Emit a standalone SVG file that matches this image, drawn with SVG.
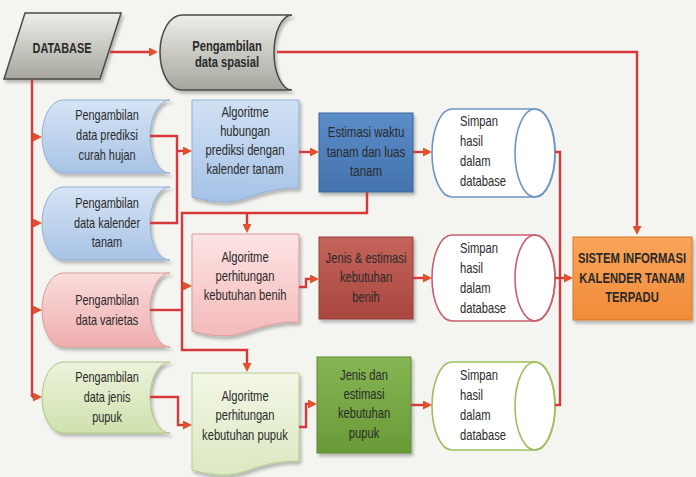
<svg xmlns="http://www.w3.org/2000/svg" width="696" height="477" viewBox="0 0 696 477">
<defs>
<style>
.t{font-family:"Liberation Sans",Arial,sans-serif;font-size:14px;fill:#2a2a2a;text-anchor:middle}
.l{text-anchor:start}
.b{font-weight:bold}
.c{fill:none;stroke:#D7383A;stroke-width:2.4;stroke-linejoin:miter}
.a{marker-end:url(#arr)}
.nb{fill:url(#gBlue);stroke:#93AED4;stroke-width:1}
.np{fill:url(#gPink);stroke:#D89A99;stroke-width:1}
.ng{fill:url(#gGreen);stroke:#AFC784;stroke-width:1}
.cy{fill:#FFFFFF;stroke-width:1.6}
</style>
<linearGradient id="gGray" x1="0" y1="0" x2="0" y2="1"><stop offset="0" stop-color="#EEEEE8"/><stop offset="1" stop-color="#A6A69F"/></linearGradient>
<linearGradient id="gBlue" x1="0" y1="0" x2="0" y2="1"><stop offset="0" stop-color="#D6E4F5"/><stop offset="1" stop-color="#A8C3E6"/></linearGradient>
<linearGradient id="gPink" x1="0" y1="0" x2="0" y2="1"><stop offset="0" stop-color="#FADCDC"/><stop offset="1" stop-color="#EFAEAE"/></linearGradient>
<linearGradient id="gGreen" x1="0" y1="0" x2="0" y2="1"><stop offset="0" stop-color="#ECF3DB"/><stop offset="1" stop-color="#CFE1AE"/></linearGradient>
<linearGradient id="gBlueA" x1="0" y1="0" x2="0" y2="1"><stop offset="0" stop-color="#D1E1F4"/><stop offset="1" stop-color="#A5C2E7"/></linearGradient>
<linearGradient id="gPinkA" x1="0" y1="0" x2="0" y2="1"><stop offset="0" stop-color="#FCE3E3"/><stop offset="1" stop-color="#F3BABA"/></linearGradient>
<linearGradient id="gGreenA" x1="0" y1="0" x2="0" y2="1"><stop offset="0" stop-color="#F2F7E6"/><stop offset="1" stop-color="#DBE8C1"/></linearGradient>
<linearGradient id="gBlueE" x1="0" y1="0" x2="0" y2="1"><stop offset="0" stop-color="#5B8DC8"/><stop offset="1" stop-color="#4473AF"/></linearGradient>
<linearGradient id="gRedE" x1="0" y1="0" x2="0" y2="1"><stop offset="0" stop-color="#C4645B"/><stop offset="1" stop-color="#A9473F"/></linearGradient>
<linearGradient id="gGreenE" x1="0" y1="0" x2="0" y2="1"><stop offset="0" stop-color="#86B553"/><stop offset="1" stop-color="#699A37"/></linearGradient>
<linearGradient id="gOrange" x1="0" y1="0" x2="0" y2="1"><stop offset="0" stop-color="#F9A559"/><stop offset="1" stop-color="#F18B38"/></linearGradient>
<filter id="sh" x="-10%" y="-10%" width="130%" height="130%"><feDropShadow dx="2" dy="3" stdDeviation="1.5" flood-color="#000" flood-opacity="0.25"/></filter>
<marker id="arr" markerUnits="userSpaceOnUse" markerWidth="9" markerHeight="9" viewBox="0 0 9 9" refX="6" refY="4.5" orient="auto"><path d="M0,0 L9,4.5 L0,9 Z" fill="#E2512E"/></marker>
</defs>
<rect width="696" height="477" fill="#F4F4F1"/>

<g id="database">
<polygon points="25,13 121,13 100,79 4,79" fill="url(#gGray)" stroke="#4A4A44" stroke-width="1.5" filter="url(#sh)"/>
<g transform="translate(62 0) scale(0.78 1)"><text class="t b" x="0" y="53">DATABASE</text></g>
</g>

<g id="spasial">
<path d="M182,15 H292 A18,37.5 0 0 0 292,90 H182 A22,37.5 0 0 1 182,15 Z" fill="url(#gGray)" stroke="#4A4A44" stroke-width="1.5" filter="url(#sh)"/>
<g transform="translate(227 0) scale(0.8 1)"><text class="t b" x="0" y="51">Pengambilan</text><text class="t b" x="0" y="67">data spasial</text></g>
</g>

<g id="n-curah">
<path class="nb" d="M63,100 H170 A20,36.5 0 0 0 170,173 H63 A21,36.5 0 0 1 63,100 Z" filter="url(#sh)"/>
<g transform="translate(107 0) scale(0.78 1)"><text class="t" x="0" y="120">Pengambilan</text><text class="t" x="0" y="140">data prediksi</text><text class="t" x="0" y="160">curah hujan</text></g>
</g>

<g id="n-kalender">
<path class="nb" d="M63,187 H170 A20,36.5 0 0 0 170,260 H63 A21,36.5 0 0 1 63,187 Z" filter="url(#sh)"/>
<g transform="translate(107 0) scale(0.78 1)"><text class="t" x="0" y="208">Pengambilan</text><text class="t" x="0" y="228">data kalender</text><text class="t" x="0" y="247">tanam</text></g>
</g>

<g id="n-varietas">
<path class="np" d="M63,273 H170 A20,37 0 0 0 170,347 H63 A21,37 0 0 1 63,273 Z" filter="url(#sh)"/>
<g transform="translate(107 0) scale(0.78 1)"><text class="t" x="0" y="305">Pengambilan</text><text class="t" x="0" y="325">data varietas</text></g>
</g>

<g id="n-pupuk">
<path class="ng" d="M63,362 H170 A20,35.5 0 0 0 170,433 H63 A21,35.5 0 0 1 63,362 Z" filter="url(#sh)"/>
<g transform="translate(107 0) scale(0.78 1)"><text class="t" x="0" y="382">Pengambilan</text><text class="t" x="0" y="402">data jenis</text><text class="t" x="0" y="422">pupuk</text></g>
</g>

<g id="alg-hubungan">
<path d="M192,100 H299 V188 C245.5,188 245.5,212 192,197 Z" fill="url(#gBlueA)" stroke="#93AED4" stroke-width="1" filter="url(#sh)"/>
<g transform="translate(245 0) scale(0.8 1)"><text class="t" x="0" y="117">Algoritme</text><text class="t" x="0" y="136">hubungan</text><text class="t" x="0" y="155">prediksi dengan</text><text class="t" x="0" y="174">kalender tanam</text></g>
</g>

<g id="alg-benih">
<path d="M192,234 H299 V322 C245.5,322 245.5,346 192,331 Z" fill="url(#gPinkA)" stroke="#D89A99" stroke-width="1" filter="url(#sh)"/>
<g transform="translate(245 0) scale(0.8 1)"><text class="t" x="0" y="262">Algoritme</text><text class="t" x="0" y="281">perhitungan</text><text class="t" x="0" y="300">kebutuhan benih</text></g>
</g>

<g id="alg-pupuk">
<path d="M192,373 H299 V461 C245.5,461 245.5,485 192,470 Z" fill="url(#gGreenA)" stroke="#B5CC8C" stroke-width="1" filter="url(#sh)"/>
<g transform="translate(245 0) scale(0.8 1)"><text class="t" x="0" y="401">Algoritme</text><text class="t" x="0" y="420">perhitungan</text><text class="t" x="0" y="440">kebutuhan pupuk</text></g>
</g>

<g id="est-waktu">
<rect x="319" y="113" width="94" height="79" fill="url(#gBlueE)" stroke="#3B659C" stroke-width="1" filter="url(#sh)"/>
<g transform="translate(366 0) scale(0.82 1)"><text class="t" x="0" y="137">Estimasi waktu</text><text class="t" x="0" y="157">tanam dan luas</text><text class="t" x="0" y="176">tanam</text></g>
</g>

<g id="est-benih">
<rect x="319" y="237" width="94" height="82" fill="url(#gRedE)" stroke="#94403A" stroke-width="1" filter="url(#sh)"/>
<g transform="translate(366 0) scale(0.8 1)"><text class="t" x="0" y="263">Jenis &amp; estimasi</text><text class="t" x="0" y="282">kebutuhan</text><text class="t" x="0" y="302">benih</text></g>
</g>

<g id="est-pupuk">
<rect x="317" y="357" width="94" height="96" fill="url(#gGreenE)" stroke="#5E8A31" stroke-width="1" filter="url(#sh)"/>
<g transform="translate(364 0) scale(0.8 1)"><text class="t" x="0" y="380">Jenis dan</text><text class="t" x="0" y="399">estimasi</text><text class="t" x="0" y="418">kebutuhan</text><text class="t" x="0" y="438">pupuk</text></g>
</g>

<g id="db-1">
<path class="cy" d="M452,109 H535 A20,44 0 0 1 535,197 H452 A20,44 0 0 1 452,109 Z" stroke="#6D95C4"/>
<ellipse cx="535" cy="153" rx="20" ry="44" fill="none" stroke="#6D95C4" stroke-width="1.6"/>
<g transform="translate(460 0) scale(0.8 1)"><text class="t l" x="0" y="126">Simpan</text><text class="t l" x="0" y="146">hasil</text><text class="t l" x="0" y="166">dalam</text><text class="t l" x="0" y="186">database</text></g>
</g>

<g id="db-2">
<path class="cy" d="M452,235 H535 A20,43 0 0 1 535,321 H452 A20,43 0 0 1 452,235 Z" stroke="#C8606E"/>
<ellipse cx="535" cy="278" rx="20" ry="43" fill="none" stroke="#C8606E" stroke-width="1.6"/>
<g transform="translate(460 0) scale(0.8 1)"><text class="t l" x="0" y="253">Simpan</text><text class="t l" x="0" y="273">hasil</text><text class="t l" x="0" y="293">dalam</text><text class="t l" x="0" y="313">database</text></g>
</g>

<g id="db-3">
<path class="cy" d="M452,362 H535 A20,44 0 0 1 535,450 H452 A20,44 0 0 1 452,362 Z" stroke="#9EBE5C"/>
<ellipse cx="535" cy="406" rx="20" ry="44" fill="none" stroke="#9EBE5C" stroke-width="1.6"/>
<g transform="translate(460 0) scale(0.8 1)"><text class="t l" x="0" y="380">Simpan</text><text class="t l" x="0" y="400">hasil</text><text class="t l" x="0" y="420">dalam</text><text class="t l" x="0" y="440">database</text></g>
</g>

<g id="sistem">
<rect x="573" y="237" width="119" height="83" fill="url(#gOrange)" stroke="#D9782A" stroke-width="1" filter="url(#sh)"/>
<g transform="translate(632 0) scale(0.75 1)"><text class="t b" x="0" y="263" style="font-size:15px">SISTEM INFORMASI</text><text class="t b" x="0" y="283" style="font-size:15px">KALENDER TANAM</text><text class="t b" x="0" y="302" style="font-size:15px">TERPADU</text></g>
</g>

<g id="connectors" class="c">
<path class="a" d="M110,52 H155"/>
<path class="a" d="M277,52 H637 V232"/>
<path d="M32,79 V397"/>
<path class="a" d="M32,137 H39"/>
<path class="a" d="M32,223 H39"/>
<path class="a" d="M32,310 H39"/>
<path class="a" d="M32,397 H39"/>
<path d="M150,136 H177 V223 H150"/>
<path class="a" d="M177,151 H189"/>
<path class="a" d="M367,192 V213 H182 V350 H247 V369"/>
<path class="a" d="M247,213 V230"/>
<path d="M150,310 H182"/>
<path class="a" d="M182,286 H189"/>
<path class="a" d="M150,397 H178 V425 H189"/>
<path class="a" d="M299,152 H316"/>
<path class="a" d="M299,287 H306 V279 H316"/>
<path class="a" d="M299,427 H306 V404 H314"/>
<path class="a" d="M413,152 H429"/>
<path class="a" d="M413,278 H429"/>
<path class="a" d="M411,405 H429"/>
<path d="M555,152 H560 V405 H555"/>
<path class="a" d="M555,278 H570"/>
</g>
</svg>
